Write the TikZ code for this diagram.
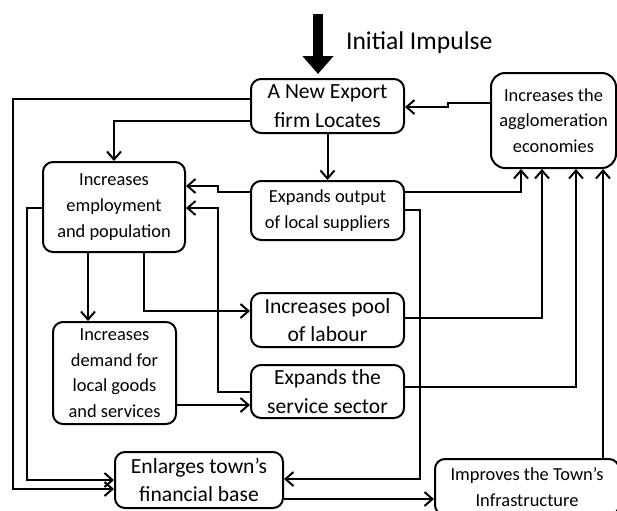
\documentclass[tikz,border=0pt]{standalone}
\usepackage{fontspec}
\setmainfont{Carlito}
\usetikzlibrary{arrows.meta,positioning}

\begin{document}
\begin{tikzpicture}[x=0.5pt,y=-0.5pt,
  box/.style={draw,line width=1pt,rounded corners=5pt,align=center,inner sep=0pt},
  big/.style={font=\fontsize{10.8}{14.4}\selectfont},
  small/.style={font=\fontsize{9.2}{12.8}\selectfont},
  link/.style={line width=1pt,-{Straight Barb[length=4pt,width=7pt]}}]
  \useasboundingbox (0,0) rectangle (617,510);
  \node[box,big,minimum width=76.5pt,minimum height=27pt] (export) at (327.5,106) {A New Export\\firm Locates};
  \node[box,small,rounded corners=7pt,minimum width=62.5pt,minimum height=47.5pt] (aggl) at (553.5,120.5) {Increases the\\agglomeration\\economies};
  \node[box,small,minimum width=71pt,minimum height=45pt] (employ) at (114,207) {Increases\\employment\\and population};
  \node[box,small,minimum width=76.5pt,minimum height=29.5pt] (suppl) at (327.5,210.5) {Expands output\\of local suppliers};
  \node[box,big,minimum width=76.5pt,minimum height=27pt] (pool) at (327.5,320) {Increases pool\\of labour};
  \node[box,big,minimum width=76.5pt,minimum height=26.5pt] (service) at (327.5,391.5) {Expands the\\service sector};
  \node[box,small,minimum width=61.5pt,minimum height=51pt] (demand) at (114.5,373) {Increases\\demand for\\local goods\\and services};
  \node[box,big,minimum width=84pt,minimum height=28pt] (finance) at (199,480) {Enlarges town’s\\financial base};
  \node[box,small,minimum width=92pt,minimum height=28pt] (infra) at (527,487) {Improves the Town’s\\Infrastructure};
  \node[font=\fontsize{12.8}{15}\selectfont,anchor=west] (impulse) at (339,43) {Initial Impulse};
  \coordinate (start) at (318,14);
  \draw[line width=5pt,-{Triangle[length=9pt,width=15pt]},shorten >=2pt] (start) -- (export.north -| start);
  \draw[link] (export.west |- 0,99) -| (13,489) -- (finance.west |- 0,489);
  \draw[link] (export.west |- 0,121) -| (employ.north);
  \draw[link] (export.south) -- (suppl.north);
  \draw[link] (aggl.west |- 0,103) -- (448,103) -- (448,107) -- (export.east |- 0,107);
  \draw[link] (suppl.west |- 0,192) -- (218,192) -- (218,186) -- (employ.east |- 0,186);
  \draw[link] (service.west |- 0,392) -| (218,208) -- (employ.east |- 0,208);
  \draw[link] (suppl.east |- 0,192) -| (aggl.south -| 521,0);
  \draw[link] (suppl.east |- 0,210) -| (420,479) -- (finance.east |- 0,479);
  \draw[link] (employ.west |- 0,208) -| (27,480) -- (finance.west |- 0,480);
  \draw[link] (employ.south -| 88,0) -- (demand.north -| 88,0);
  \draw[link] (employ.south -| 144,0) |- (pool.west |- 0,311);
  \draw[link] (demand.east |- 0,405) -- (service.west |- 0,405);
  \draw[link] (pool.east |- 0,318) -| (aggl.south -| 542,0);
  \draw[link] (service.east |- 0,387) -| (aggl.south -| 576,0);
  \draw[link] (infra.north -| 603,0) -- (aggl.south -| 603,0);
  \draw[link] (finance.east |- 0,499) -- (infra.west |- 0,499);
\end{tikzpicture}
\end{document}
